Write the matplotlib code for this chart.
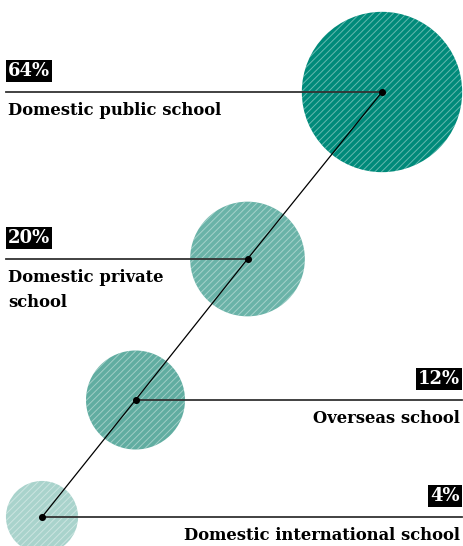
import matplotlib.pyplot as plt
from matplotlib.patches import Circle

# data
labels = ["Domestic public school", "Domestic private\nschool", "Overseas school", "Domestic international school"]
shares = [64, 20, 12, 4]

# layout (pixel coordinates, y grows downwards)
W, H = 463, 546
cx = [382, 247.5, 135.5, 42]
cy = [92, 259, 400, 517]
sides = ["left", "left", "right", "right"]
fills = ["#008a7a", "#6ab3a8", "#61ada1", "#a9d3cc"]
LEFT, RIGHT = 7, 461

plt.rcParams["font.family"] = ["DejaVu Serif"]
plt.rcParams["hatch.linewidth"] = 0.7

fig = plt.figure(figsize=(W / 100, H / 100), dpi=100)
ax = fig.add_axes([0, 0, 1, 1])
ax.set_xlim(0, W)
ax.set_ylim(H, 0)
ax.axis("off")


def radius(v):
    # power scale fitted to the bubbles
    return 24.2 * v ** 0.288


for x, y, v, c in zip(cx, cy, shares, fills):
    ax.add_patch(Circle((x, y), radius(v), facecolor=c, edgecolor=(1, 1, 1, 0.4),
                        hatch="/////", linewidth=0, zorder=1))

# connector through the centres
ax.plot(cx, cy, color="black", lw=0.9, zorder=3)

for x, y, v, lab, side in zip(cx, cy, shares, labels, sides):
    if side == "left":
        ax.plot([LEFT - 1, x], [y, y], color="#333333", lw=1.3, zorder=2)
        tx, ha = LEFT + 1, "left"
    else:
        ax.plot([x, RIGHT + 1], [y, y], color="#333333", lw=1.3, zorder=2)
        tx, ha = RIGHT - 1, "right"
    ax.text(tx, y - 12, f"{v}%", color="white", fontsize=13, fontweight="bold",
            ha=ha, va="bottom", zorder=4,
            bbox=dict(facecolor="black", edgecolor="none", boxstyle="square,pad=0.12"))
    ax.text(tx, y + 10, lab, color="black", fontsize=11.8, fontweight="bold",
            ha=ha, va="top", linespacing=1.65, zorder=4)

ax.scatter(cx, cy, s=26, color="black", zorder=5, linewidths=0)

fig.savefig("out.png", dpi=100)
